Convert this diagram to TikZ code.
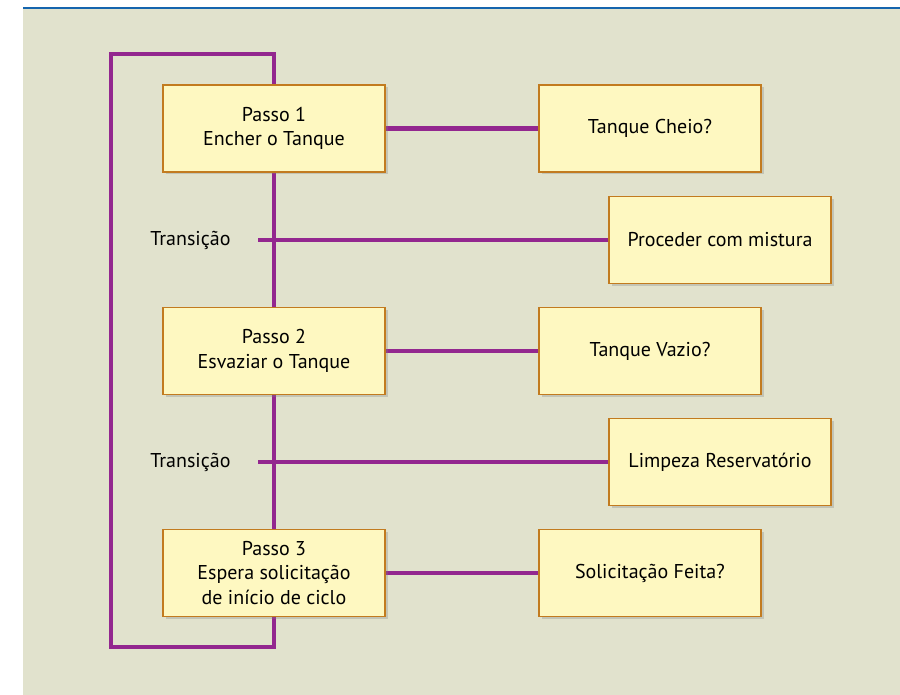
\documentclass[tikz,border=0pt]{standalone}
\usepackage{fontspec}
\setmainfont{PT Sans}
\usetikzlibrary{positioning,shadows,backgrounds}
\definecolor{panelBeige}{HTML}{E1E2CD}
\definecolor{ruleBlue}{HTML}{1565AE}
\definecolor{stepFill}{HTML}{FEF8C1}
\definecolor{stepEdge}{HTML}{C27B1F}
\definecolor{linkPurple}{HTML}{93278F}

\begin{document}
\begin{tikzpicture}[x=1pt,y=-1pt,stepbox/.style={draw=stepEdge,line width=1.8pt,fill=stepFill,minimum width=222pt,minimum height=87pt,align=center,font=\fontsize{20}{24.5}\selectfont,drop shadow={shadow xshift=2.5pt,shadow yshift=-2.5pt,opacity=0.3}},link/.style={draw=linkPurple,line width=4.8pt},tlabel/.style={font=\fontsize{20}{24.5}\selectfont}]
\useasboundingbox (0,0) rectangle (900,695);
\begin{scope}[on background layer]
\fill[white] (0,0) rectangle (900,695);
\fill[panelBeige] (23,9) rectangle (900,695);
\draw[ruleBlue,line width=2.2pt] (23,8) -- (900,8);
\end{scope}
% steps and conditions
\node[stepbox] (s1) at (274,128.5) {Passo 1\\Encher o Tanque};
\node[stepbox] (c1) at (650,128.5) {Tanque Cheio?};
\node[stepbox] (a1) at (720,240) {Proceder com mistura};
\node[stepbox] (s2) at (274,351) {Passo 2\\Esvaziar o Tanque};
\node[stepbox] (c2) at (650,351) {Tanque Vazio?};
\node[stepbox] (a2) at (720,462) {Limpeza Reservat\'orio};
\node[stepbox] (s3) at (274,573) {Passo 3\\Espera solicitação\\de início de ciclo};
\node[stepbox] (c3) at (650,573) {Solicitação Feita?};
% transitions
\coordinate (t1) at (258,240);
\coordinate (t2) at (258,462);
\node[tlabel,left=24pt of t1] (l1) {Transição};
\node[tlabel,left=24pt of t2] (l2) {Transição};
% loop corners
\coordinate (lt) at (274,54);
\coordinate (ltl) at (111,54);
\coordinate (lbl) at (111,647);
\coordinate (lb) at (274,647);
\begin{scope}[on background layer]
\draw[link] (s1.north) -- (lt) -- (ltl) -- (lbl) -- (lb) -- (s3.south);
\draw[link] (s1.south) -- (s2.north);
\draw[link] (s2.south) -- (s3.north);
\draw[link] (s1.east) -- (c1.west);
\draw[link] (s2.east) -- (c2.west);
\draw[link] (s3.east) -- (c3.west);
\draw[link] (t1) -- (a1.west);
\draw[link] (t2) -- (a2.west);
\end{scope}
\end{tikzpicture}
\end{document}
